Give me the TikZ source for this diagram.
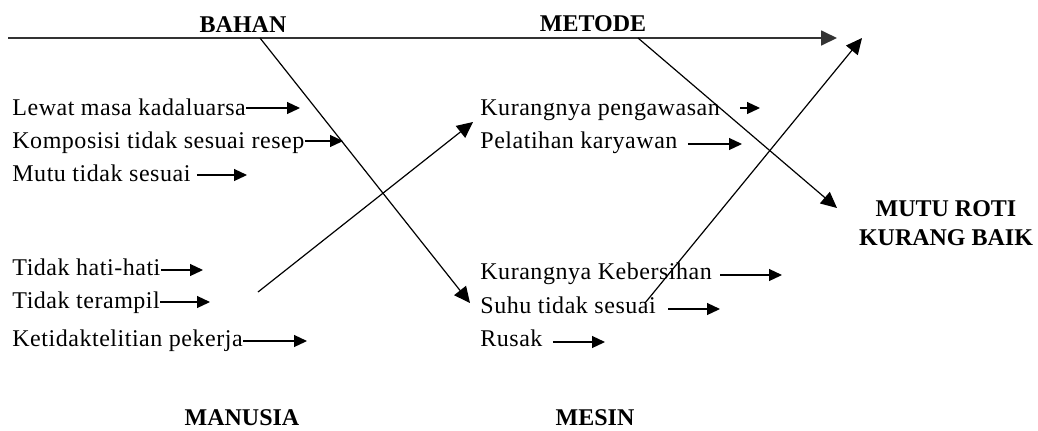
\documentclass[tikz,border=0pt]{standalone}
\usepackage{fontspec}
\setmainfont{Liberation Serif}
\newfontfamily\lblfont[LetterSpace=2.2]{Liberation Serif}
\usetikzlibrary{arrows.meta}
\begin{document}
\begin{tikzpicture}[x=0.5pt,y=-0.5pt,
  lbl/.style={font=\lblfont\fontsize{12}{14}\selectfont, inner sep=0pt, anchor=base west},
  cat/.style={font=\bfseries\fontsize{12}{14}\selectfont, inner sep=0pt},
  bone/.style={line width=0.6pt, -{Triangle[length=8pt,width=7.5pt]}},
  twig/.style={line width=0.6pt, -{Triangle[length=6.5pt,width=6pt]}}]
\useasboundingbox (0,0) rectangle (1038,430);

% category labels
\node[cat] (bahan) at (243,25) {BAHAN};
\node[cat] (metode) at (593,24) {METODE};
\node[cat] (manusia) at (242,418) {MANUSIA};
\node[cat] (mesin) at (595,418) {MESIN};
\node[cat, align=center, font=\bfseries\fontsize{12}{14.5}\selectfont] (effect) at (946,223) {MUTU ROTI\\KURANG BAIK};

% bone coordinates
\coordinate (s0) at (8,38);
\coordinate (s1) at (837,38);
\coordinate (b0) at (260,38);
\coordinate (b1) at (470,303);
\coordinate (m0) at (638,38);
\coordinate (m1) at (837,208);
\coordinate (h0) at (258,292);
\coordinate (h1) at (473,122);
\coordinate (e0) at (645,303);
\coordinate (e1) at (862,38);

\draw[bone, line width=0.9pt, draw=black!80] (s0) -- (s1);
\draw[bone] (b0) -- (b1);
\draw[bone] (m0) -- (m1);
\draw[bone] (h0) -- (h1);
\draw[bone] (e0) -- (e1);

% cause labels
\node[lbl] (c1) at (12,115) {Lewat masa kadaluarsa};
\node[lbl] (c2) at (12,148) {Komposisi tidak sesuai resep};
\node[lbl] (c3) at (12,181) {Mutu tidak sesuai};
\node[lbl] (c4) at (12,275) {Tidak hati-hati};
\node[lbl] (c5) at (12,308) {Tidak terampil};
\node[lbl] (c6) at (12,346) {Ketidaktelitian pekerja};
\node[lbl] (c7) at (480,115) {Kurangnya pengawasan};
\node[lbl] (c8) at (480,148) {Pelatihan karyawan};
\node[lbl] (c9) at (480,279) {Kurangnya Kebersihan};
\node[lbl] (c10) at (480,313) {Suhu tidak sesuai};
\node[lbl] (c11) at (480,346) {Rusak};

% cause arrow tips
\coordinate (t1) at (300,108);
\coordinate (t2) at (343,141);
\coordinate (t3) at (247,175);
\coordinate (t4) at (203,270);
\coordinate (t5) at (210,302);
\coordinate (t6) at (307,341);
\coordinate (t7) at (760,108);
\coordinate (t8) at (742,144);
\coordinate (t9) at (782,275);
\coordinate (t10) at (720,309);
\coordinate (t11) at (605,342);

\draw[twig] (c1.east |- t1) -- (t1);
\draw[twig] (c2.east |- t2) -- (t2);
\draw[twig] ([xshift=3pt]c3.east |- t3) -- (t3);
\draw[twig] (c4.east |- t4) -- (t4);
\draw[twig] (c5.east |- t5) -- (t5);
\draw[twig] (c6.east |- t6) -- (t6);
\draw[twig] ([xshift=10pt]c7.east |- t7) -- (t7);
\draw[twig] ([xshift=5pt]c8.east |- t8) -- (t8);
\draw[twig] ([xshift=4pt]c9.east |- t9) -- (t9);
\draw[twig] ([xshift=6pt]c10.east |- t10) -- (t10);
\draw[twig] ([xshift=5pt]c11.east |- t11) -- (t11);
\end{tikzpicture}
\end{document}
